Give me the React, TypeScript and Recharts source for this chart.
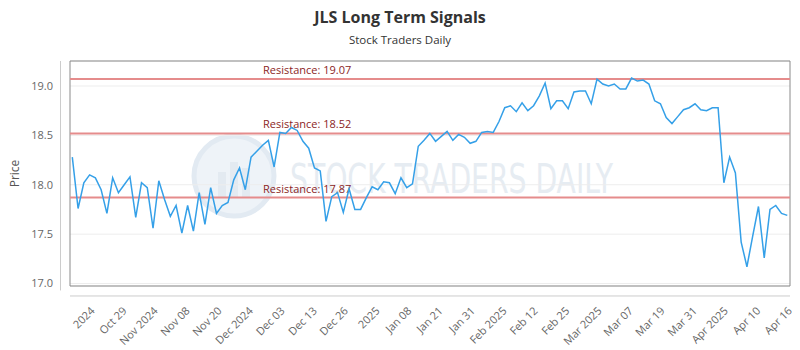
import React from 'react';
import { LineChart, Line, XAxis, YAxis, CartesianGrid, ReferenceLine, ReferenceArea } from 'recharts';

// closing prices, one per trading day
const prices = [
  18.28, 17.76, 18.02, 18.1, 18.07, 17.95, 17.71, 18.07, 17.92, 18.0,
  18.08, 17.67, 18.02, 17.97, 17.56, 18.04, 17.85, 17.68, 17.79, 17.51,
  17.79, 17.53, 17.92, 17.6, 17.97, 17.71, 17.79, 17.82, 18.05, 18.17,
  17.95, 18.28, 18.34, 18.4, 18.45, 18.18, 18.53, 18.52, 18.58, 18.55,
  18.44, 18.37, 18.17, 18.14, 17.63, 17.88, 17.92, 17.72, 17.96, 17.75,
  17.75, 17.87, 17.98, 17.95, 18.03, 18.02, 17.91, 18.07, 17.97, 18.01,
  18.39, 18.45, 18.52, 18.44, 18.49, 18.54, 18.45, 18.51, 18.48, 18.42,
  18.44, 18.53, 18.54, 18.53, 18.64, 18.78, 18.8, 18.74, 18.83, 18.75,
  18.8, 18.9, 19.03, 18.77, 18.85, 18.85, 18.77, 18.94, 18.95, 18.95,
  18.82, 19.07, 19.02, 19.0, 19.02, 18.97, 18.97, 19.08, 19.05, 19.06,
  19.02, 18.85, 18.82, 18.68, 18.62, 18.69, 18.76, 18.78, 18.82, 18.76,
  18.75, 18.78, 18.78, 18.02, 18.28, 18.12, 17.42, 17.17, 17.48, 17.78,
  17.26, 17.75, 17.79, 17.71, 17.69,
];

const tickLabels = [
  '2024', 'Oct 29', 'Nov 2024', 'Nov 08', 'Nov 20', 'Dec 2024', 'Dec 03', 'Dec 13',
  'Dec 26', '2025', 'Jan 08', 'Jan 21', 'Jan 31', 'Feb 2025', 'Feb 12', 'Feb 25',
  'Mar 2025', 'Mar 07', 'Mar 19', 'Mar 31', 'Apr 2025', 'Apr 10', 'Apr 16',
];
// where each label sits, in trading-day index units
const tickIndex = [
  3.07, 8.6, 14.0, 19.55, 25.1, 30.5, 36.0, 41.6, 47.0, 52.5, 58.0, 63.4,
  69.0, 74.5, 79.9, 85.4, 91.0, 96.4, 101.9, 107.5, 112.9, 118.5, 124.0,
];

const resistance = [19.07, 18.52, 17.87];
const yTicks = [17, 17.5, 18, 18.5, 19];

const X_DOMAIN: [number, number] = [-0.4, 124.47];
const Y_DOMAIN: [number, number] = [16.975, 19.253];

const FONT = "'Open Sans', 'Noto Sans', sans-serif";

const rows = prices.map((price, i) => ({ i, price }));

const resistanceLabel = (value: number) => (props: any) => {
  const vb = props.viewBox || {};
  return (
    <text x={vb.x + 193} y={vb.y - 5} fill="#8b2525" fontSize={11} fontFamily={FONT}>
      {`Resistance: ${value.toFixed(2)}`}
    </text>
  );
};

const Watermark = () => (
  <svg width={800} height={350} style={{ position: 'absolute', left: 0, top: 0 }}>
    <circle cx={234} cy={176} r={40} fill="#eef3f8" stroke="#e2eaf2" strokeWidth={5} />
    <rect x={218} y={172} width={8} height={26} fill="#e3eaf1" />
    <rect x={230} y={162} width={8} height={36} fill="#e3eaf1" />
    <rect x={242} y={168} width={8} height={30} fill="#e3eaf1" />
    <text
      x={290}
      y={193}
      fontSize={40}
      fontFamily="'DejaVu Sans Condensed', 'Open Sans', sans-serif"
      fill="#e6ecf2"
      textLength={323}
      lengthAdjust="spacingAndGlyphs"
    >
      STOCK TRADERS DAILY
    </text>
  </svg>
);

export default function App() {
  return (
    <div style={{ position: 'absolute', left: 0, top: 0, width: 800, height: 350, background: '#fff', fontFamily: FONT }}>
      <Watermark />
      <div style={{ position: 'absolute', left: 0, top: 6, width: 800, textAlign: 'center', fontSize: 16, fontWeight: 700, color: '#333' }}>
        JLS Long Term Signals
      </div>
      <div style={{ position: 'absolute', left: 0, top: 32, width: 800, textAlign: 'center', fontSize: 11.5, color: '#333' }}>
        Stock Traders Daily
      </div>
      <div style={{ position: 'absolute', left: 0, top: 0 }}>
        <LineChart width={800} height={350} data={rows} margin={{ top: 61, right: 10, bottom: 4, left: 0 }}>
          <CartesianGrid vertical={false} stroke="#ededed" />
          <ReferenceArea
            x1={X_DOMAIN[0]}
            x2={X_DOMAIN[1]}
            y1={Y_DOMAIN[0]}
            y2={Y_DOMAIN[1]}
            fill="none"
            fillOpacity={0}
            stroke="#8a8a8a"
            strokeWidth={1}
            ifOverflow="visible"
          />
          <XAxis
            type="number"
            dataKey="i"
            domain={X_DOMAIN}
            ticks={tickIndex}
            interval={0}
            allowDataOverflow
            height={60}
            axisLine={false}
            tickLine={false}
            tickSize={0}
            tickMargin={20}
            angle={-45}
            textAnchor="end"
            tick={{ fill: '#666', fontSize: 11, fontFamily: FONT }}
            tickFormatter={(v: number) => tickLabels[tickIndex.indexOf(v)] ?? ''}
          />
          <YAxis
            domain={Y_DOMAIN}
            ticks={yTicks}
            allowDataOverflow
            width={70}
            axisLine={false}
            tickLine={false}
            tickSize={0}
            tickMargin={17}
            tick={{ fill: '#666', fontSize: 11, fontFamily: FONT }}
            tickFormatter={(v: number) => v.toFixed(1)}
            label={{
              value: 'Price',
              angle: -90,
              position: 'insideLeft',
              offset: 15,
              style: { textAnchor: 'middle', fill: '#555', fontSize: 12, fontFamily: FONT },
            }}
          />
          {/* offset axis lines, like the original */}
          <ReferenceLine
            segment={[{ x: X_DOMAIN[0], y: 16.874 }, { x: X_DOMAIN[1], y: 16.874 }]}
            stroke="#ccc"
            ifOverflow="visible"
          />
          <ReferenceLine
            segment={[{ x: -2.05, y: Y_DOMAIN[1] }, { x: -2.05, y: 16.93 }]}
            stroke="#ccc"
            ifOverflow="visible"
          />
          {resistance.map((r) => (
            <ReferenceLine
              key={r}
              y={r}
              stroke="#e58c8c"
              strokeWidth={2}
              label={resistanceLabel(r)}
            />
          ))}
          <Line
            type="linear"
            dataKey="price"
            stroke="#35a0e8"
            strokeWidth={1.5}
            dot={false}
            isAnimationActive={false}
          />
        </LineChart>
      </div>
    </div>
  );
}
